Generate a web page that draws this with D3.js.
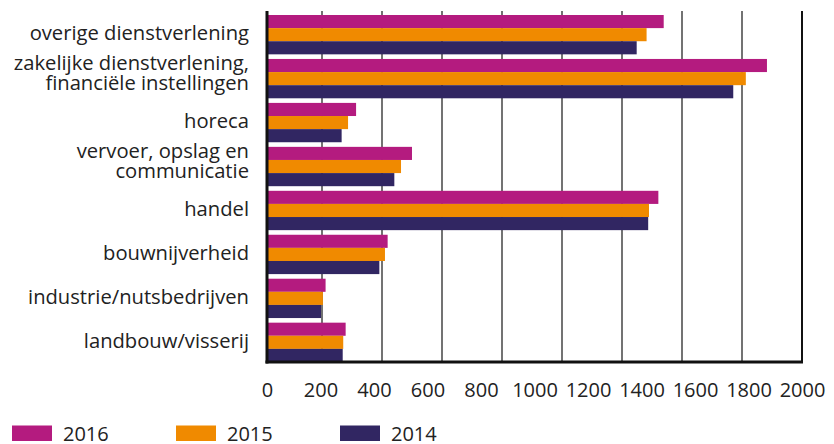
<!DOCTYPE html>
<html>
<head>
<meta charset="utf-8">
<script src="https://cdn.jsdelivr.net/npm/d3@7"></script>
<style>
  html, body { margin: 0; padding: 0; background: #fff; }
  svg { display: block; }
  text { font-family: "Open Sans", "Noto Sans", sans-serif; fill: #222; }
</style>
</head>
<body>
<svg id="chart" width="834" height="444"></svg>
<script>
// Sectors, top to bottom ("\n" marks a line break in the label)
const categories = [
  "overige dienstverlening",
  "zakelijke dienstverlening,\nfinanciële instellingen",
  "horeca",
  "vervoer, opslag en\ncommunicatie",
  "handel",
  "bouwnijverheid",
  "industrie/nutsbedrijven",
  "landbouw/visserij"
];

const years = ["2016", "2015", "2014"];
const values2016 = [1483, 1869, 333, 542, 1463, 451, 219, 294];
const values2015 = [1419, 1790, 303, 501, 1428, 441, 209, 285];
const values2014 = [1382, 1743, 279, 476, 1425, 420, 202, 283];
const xTicks = [0, 200, 400, 600, 800, 1000, 1200, 1400, 1600, 1800, 2000];
const gridDivisions = 9;

const colors = { "2016": "#b41b7f", "2015": "#f08a00", "2014": "#312662" };
const seriesValues = { "2016": values2016, "2015": values2015, "2014": values2014 };

const rows = categories.map((c, i) => ({
  category: c,
  bars: years.map(y => ({ year: y, value: seriesValues[y][i] }))
}));

const plot = { left: 267, right: 802, top: 11, bottom: 362 };

const svg = d3.select("#chart");

const x = d3.scaleLinear().domain([0, 2000]).range([plot.left, plot.right]);

const y = d3.scaleBand()
  .domain(categories)
  .range([plot.top + 4, plot.bottom])
  .paddingInner(0.105)
  .paddingOuter(0);

const ySub = d3.scaleBand().domain(years).range([0, y.bandwidth()]);

// vertical grid: equal divisions, starting just behind the heavy axis line
const grid = d3.scaleLinear().domain([0, gridDivisions]).range([plot.left - 5, plot.right]);
svg.append("g").attr("class", "grid")
  .selectAll("line")
  .data(d3.range(1, gridDivisions))
  .join("line")
  .attr("x1", d => grid(d)).attr("x2", d => grid(d))
  .attr("y1", plot.top).attr("y2", plot.bottom)
  .attr("stroke", "#444").attr("stroke-width", 1.5);

// bars
const groups = svg.append("g").selectAll("g")
  .data(rows)
  .join("g")
  .attr("transform", d => `translate(0,${y(d.category)})`);

groups.selectAll("rect")
  .data(d => d.bars)
  .join("rect")
  .attr("x", x(0))
  .attr("y", d => ySub(d.year))
  .attr("width", d => x(d.value) - x(0))
  .attr("height", ySub.bandwidth())
  .attr("fill", d => colors[d.year]);

// frame: right edge, left and bottom axis lines
svg.append("line")
  .attr("x1", plot.right).attr("x2", plot.right)
  .attr("y1", plot.top).attr("y2", plot.bottom)
  .attr("stroke", "#111").attr("stroke-width", 2);

svg.append("line")
  .attr("x1", plot.left).attr("x2", plot.left)
  .attr("y1", plot.top).attr("y2", plot.bottom + 1.5)
  .attr("stroke", "#111").attr("stroke-width", 3);

// x axis labels
const xAxis = d3.axisBottom(x).tickValues(xTicks).tickSize(0).tickPadding(21)
  .tickFormat(d3.format("d"));
const gx = svg.append("g")
  .attr("transform", `translate(0,${plot.bottom})`)
  .call(xAxis);
gx.select(".domain").remove();
gx.selectAll("text")
  .style("font-family", "'Open Sans', sans-serif")
  .style("font-size", "20px")
  .attr("fill", "#222");

svg.append("line")
  .attr("x1", plot.left - 1.5).attr("x2", plot.right + 1)
  .attr("y1", plot.bottom).attr("y2", plot.bottom)
  .attr("stroke", "#111").attr("stroke-width", 3);

// category labels, right-aligned next to the axis
const lineHeight = 20.8;
const labels = svg.append("g").selectAll("text")
  .data(rows)
  .join("text")
  .attr("text-anchor", "end")
  .attr("x", 249)
  .attr("y", d => y(d.category) + y.bandwidth() / 2)
  .style("font-size", "20.2px");

labels.each(function(d) {
  const lines = d.category.split("\n");
  const t = d3.select(this);
  const firstDy = lines.length > 1 ? -9 : 5.5;
  lines.forEach((ln, i) => {
    t.append("tspan")
      .attr("x", 249)
      .attr("dy", (i === 0 ? firstDy : lineHeight) + "px")
      .text(ln);
  });
});

// legend
const legend = svg.append("g").selectAll("g")
  .data(years)
  .join("g")
  .attr("transform", (d, i) => `translate(${12 + i * 164},425.5)`);

legend.append("rect")
  .attr("width", 40).attr("height", 15.5)
  .attr("fill", d => colors[d]);

legend.append("text")
  .attr("x", 51).attr("y", 15)
  .style("font-size", "20px")
  .text(d => d);
</script>
</body>
</html>
